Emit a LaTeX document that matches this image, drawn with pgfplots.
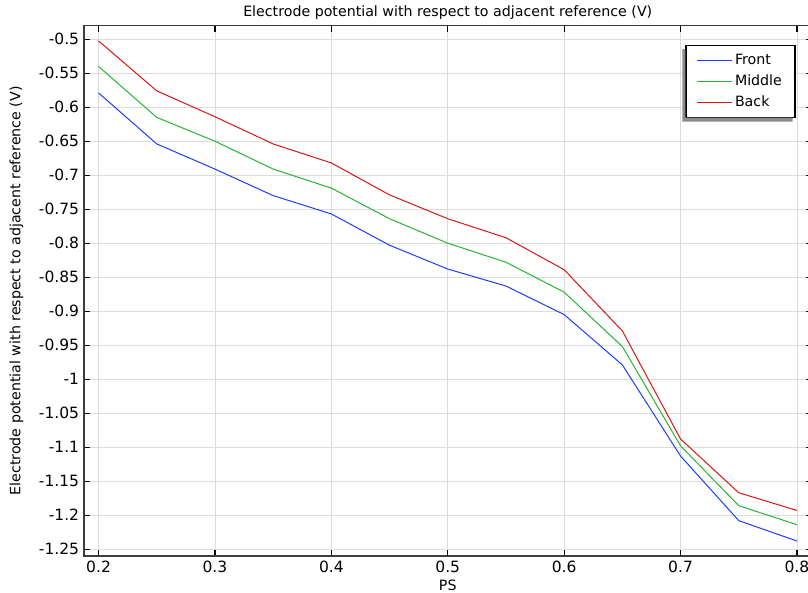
\documentclass[border=0pt]{standalone}
\usepackage{fontspec}
\setmainfont{DejaVu Sans}
\usepackage{pgfplots}
\pgfplotsset{compat=1.18}
\definecolor{cblue}{RGB}{30,60,255}
\definecolor{cgreen}{RGB}{40,180,50}
\definecolor{cred}{RGB}{220,20,20}
\definecolor{cgrid}{RGB}{220,220,220}
\definecolor{caxis}{RGB}{60,60,60}
\newcommand{\fs}{\fontsize{14.2bp}{17bp}\selectfont}
\newcommand{\ft}{\fontsize{15.5bp}{18bp}\selectfont}
\begin{document}
\fs
\begin{tikzpicture}[x=1bp,y=1bp]
\useasboundingbox (-84bp,-37bp) rectangle (724bp,556bp);
\begin{axis}[
  at={(0,0)}, anchor=south west,
  scale only axis,
  width=727.5bp, height=530.4bp,
  xmin=0.1875, xmax=0.8125,
  ymin=-1.26, ymax=-0.48,
  xtick={0.2,0.3,...,0.8},
  xticklabels={0.2,0.3,0.4,0.5,0.6,0.7,0.8},
  ytick={-1.25,-1.2,...,-0.5},
  yticklabels={-1.25,-1.2,-1.15,-1.1,-1.05,-1,-0.95,-0.9,-0.85,-0.8,-0.75,-0.7,-0.65,-0.6,-0.55,-0.5},
  /pgf/number format/assume math mode=true,
  tick label style={font=\ft},
  label style={font=\fs},
  title style={font=\fs, yshift=-5bp},
  title={Electrode potential with respect to adjacent reference (V)},
  xlabel={PS},
  ylabel={Electrode potential with respect to adjacent reference (V)},
  xlabel style={yshift=2.5bp},
  ylabel style={yshift=6bp},
  grid=major,
  major grid style={cgrid, line width=0.9bp},
  axis line style={caxis, line width=1.5bp},
  tick align=inside,
  major tick length=6bp,
  tick style={black, line width=1.3bp},
  legend style={name=leg, at={(0.978,0.963)}, anchor=north east, draw=black, line width=1.2bp,
    fill=white, font=\fs, row sep=4.5bp, inner xsep=11bp, inner ysep=6bp},
  legend cell align=left,
  legend image code/.code={\draw[#1, line width=1.1bp] (0bp,0bp) -- (35bp,0bp);},
]
\addplot[cblue, line width=1bp] coordinates {
(0.2,-0.579) (0.25,-0.654) (0.3,-0.691) (0.35,-0.730) (0.4,-0.757) (0.45,-0.803) (0.5,-0.838) (0.55,-0.863) (0.6,-0.905) (0.65,-0.979) (0.7,-1.113) (0.75,-1.208) (0.8,-1.238)};
\addlegendentry{Front}
\addplot[cgreen, line width=1bp] coordinates {
(0.2,-0.540) (0.25,-0.615) (0.3,-0.650) (0.35,-0.691) (0.4,-0.719) (0.45,-0.764) (0.5,-0.800) (0.55,-0.828) (0.6,-0.872) (0.65,-0.952) (0.7,-1.098) (0.75,-1.186) (0.8,-1.214)};
\addlegendentry{Middle}
\addplot[cred, line width=1bp] coordinates {
(0.2,-0.5025) (0.25,-0.576) (0.3,-0.614) (0.35,-0.654) (0.4,-0.682) (0.45,-0.729) (0.5,-0.764) (0.55,-0.792) (0.6,-0.839) (0.65,-0.929) (0.7,-1.088) (0.75,-1.167) (0.8,-1.193)};
\addlegendentry{Back}
\end{axis}
\fill[gray!90] ([shift={(-3bp,-4bp)}]leg.north west) -- ([shift={(-3bp,-4bp)}]leg.south west)
  -- ([shift={(-3bp,-4bp)}]leg.south east) -- ([shift={(-3bp,0bp)}]leg.south east)
  -- (leg.south west) -- ([shift={(0bp,-4bp)}]leg.north west) -- cycle;
\end{tikzpicture}
\end{document}
